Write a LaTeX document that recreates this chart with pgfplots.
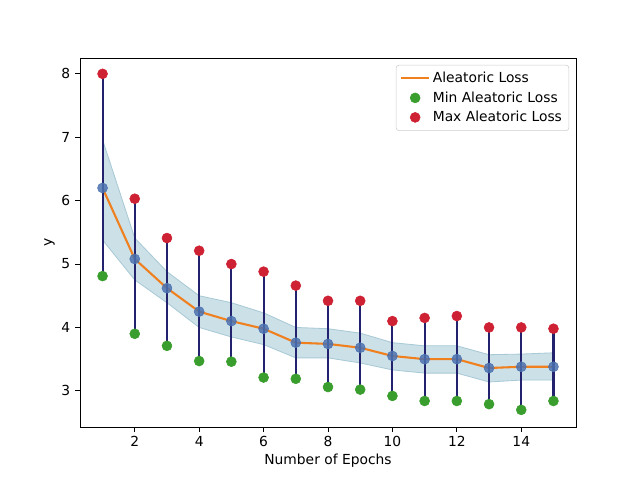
\documentclass[border=0pt]{standalone}
\usepackage{pgfplots}
\pgfplotsset{compat=1.18}
\usepackage{fontspec}
\setmainfont{DejaVu Sans}
\definecolor{mplorange}{HTML}{F07F1E}
\definecolor{mplgreen}{HTML}{3A9E2E}
\definecolor{mplred}{HTML}{CE2234}
\definecolor{dotblue}{HTML}{4C72B0}
\definecolor{bandfill}{HTML}{CCE0E8}
\definecolor{bandedge}{HTML}{A8C9D6}
\definecolor{vline}{HTML}{22226E}
\pgfplotsset{
  lineleg/.style={legend image code/.code={\draw[##1] (0pt,0pt) -- (20pt,0pt);}},
  dotleg/.style={legend image code/.code={\path (0pt,0pt) (20pt,0pt); \draw[##1, only marks] plot coordinates {(10pt,0pt)};}},
}
\begin{document}
\begin{tikzpicture}[x=1pt,y=1pt]
\useasboundingbox (-57.82pt,-38.30pt) rectangle (404.71pt,308.59pt);
\begin{axis}[
  at={(0,0)}, anchor=south west,
  scale only axis, width=358.46pt, height=266.68pt,
  xmin=0.3, xmax=15.7, ymin=2.43, ymax=8.25,
  xtick={2,4,6,8,10,12,14}, ytick={3,4,5,6,7,8},
  tick align=outside, tick pos=left,
  major tick length=3.5pt,
  every tick/.style={black, line width=0.6pt},
  axis line style={line width=0.6pt},
  xlabel={Number of Epochs}, ylabel={y},
  /pgf/number format/assume math mode=true,
  ticklabel style={font=\fontsize{10}{12}\selectfont},
  label style={font=\fontsize{10}{12}\selectfont},
  xlabel style={yshift=2pt},
  ylabel style={yshift=-2pt},
  legend cell align=left,
  legend style={at={(1,1)}, anchor=north east, xshift=-5pt, yshift=-5pt,
    draw=black!20, rounded corners=2pt, font=\fontsize{10}{12}\selectfont,
    row sep=1pt, inner sep=3pt},
]
% band
\addplot[draw=bandedge, fill=bandfill, line width=0.6pt, forget plot] coordinates {
(1,6.96) (2,5.41) (3,4.88) (4,4.50) (5,4.39) (6,4.23) (7,4.00) (8,3.98) (9,3.91) (10,3.76) (11,3.71) (12,3.71) (13,3.57) (14,3.58) (15,3.60)
(15,3.17) (14,3.17) (13,3.14) (12,3.28) (11,3.28) (10,3.33) (9,3.44) (8,3.52) (7,3.52) (6,3.73) (5,3.85) (4,4.00) (3,4.39) (2,4.75) (1,5.38)
} -- cycle;
% mean line
\addplot[color=mplorange, line width=1.5pt, lineleg] coordinates {
(1,6.20) (2,5.08) (3,4.62) (4,4.25) (5,4.10) (6,3.98) (7,3.76) (8,3.74) (9,3.68) (10,3.55) (11,3.50) (12,3.50) (13,3.36) (14,3.38) (15,3.38)
};
\addlegendentry{Aleatoric Loss}
% blue dots
\addplot[color=dotblue, only marks, mark=*, mark size=3.6pt, mark options={draw=none, fill=dotblue, fill opacity=0.85}, forget plot] coordinates {
(1,6.20) (2,5.08) (3,4.62) (4,4.25) (5,4.10) (6,3.98) (7,3.76) (8,3.74) (9,3.68) (10,3.55) (11,3.50) (12,3.50) (13,3.36) (14,3.38) (15,3.38)
};
% min
\addplot[color=mplgreen, only marks, mark=*, mark size=3.6pt, mark options={draw=none, fill=mplgreen}, dotleg] coordinates {
(1,4.81) (2,3.90) (3,3.71) (4,3.47) (5,3.46) (6,3.21) (7,3.19) (8,3.06) (9,3.02) (10,2.92) (11,2.84) (12,2.84) (13,2.79) (14,2.70) (15,2.84)
};
\addlegendentry{Min Aleatoric Loss}
% max
\addplot[color=mplred, only marks, mark=*, mark size=3.6pt, mark options={draw=none, fill=mplred}, dotleg] coordinates {
(1,8.00) (2,6.03) (3,5.41) (4,5.21) (5,5.00) (6,4.88) (7,4.66) (8,4.42) (9,4.42) (10,4.10) (11,4.15) (12,4.18) (13,4.00) (14,4.00) (15,3.98)
};
\addlegendentry{Max Aleatoric Loss}
% vertical lines
\addplot[color=vline, line width=1.5pt, forget plot] coordinates {
(1,4.81) (1,8.00)

(2,3.90) (2,6.03)

(3,3.71) (3,5.41)

(4,3.47) (4,5.21)

(5,3.46) (5,5.00)

(6,3.21) (6,4.88)

(7,3.19) (7,4.66)

(8,3.06) (8,4.42)

(9,3.02) (9,4.42)

(10,2.92) (10,4.10)

(11,2.84) (11,4.15)

(12,2.84) (12,4.18)

(13,2.79) (13,4.00)

(14,2.70) (14,4.00)

(15,2.84) (15,3.98)
};
\end{axis}
\end{tikzpicture}
\end{document}
